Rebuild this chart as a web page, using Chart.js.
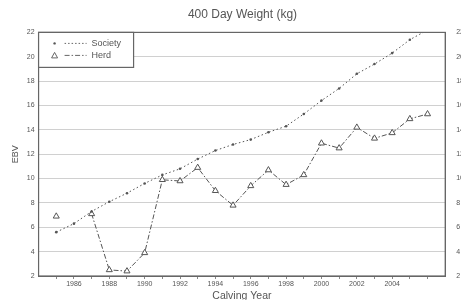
<!DOCTYPE html>
<html>
<head>
<meta charset="utf-8">
<script src="https://cdn.jsdelivr.net/npm/chart.js@4/dist/chart.umd.min.js"></script>
<style>
  html, body { margin: 0; padding: 0; background: #fff; overflow: hidden; }
  #wrap { width: 475px; height: 302px; }
</style>
</head>
<body>
<div id="wrap"><canvas id="myChart"></canvas></div>
<script>
// --- données ---
const years = [1985, 1986, 1987, 1988, 1989, 1990, 1991, 1992, 1993, 1994, 1995,
               1996, 1997, 1998, 1999, 2000, 2001, 2002, 2003, 2004, 2005, 2006];
const society = [5.6, 6.3, 7.3, 8.1, 8.8, 9.6, 10.3, 10.8, 11.6, 12.3, 12.8,
                 13.2, 13.8, 14.3, 15.3, 16.4, 17.4, 18.6, 19.4, 20.3, 21.4, 22.2];
const herd = [6.9, null, 7.1, 2.5, 2.4, 3.9, 9.9, 9.8, 10.9, 9.0, 7.8,
              9.4, 10.7, 9.5, 10.3, 12.9, 12.5, 14.2, 13.3, 13.75, 14.9, 15.3];
const xLabelYears = [1986, 1988, 1990, 1992, 1994, 1996, 1998, 2000, 2002, 2004];
const yTicks = [2, 4, 6, 8, 10, 12, 14, 16, 18, 20, 22];

const ink = '#555';
const grid = '#d0d0d0';
const fontFam = '"Liberation Sans", Arial, sans-serif';

// cadre + légende dans la zone du graphique
const framePlugin = {
  id: 'frame',
  afterDraw(chart) {
    const { ctx, chartArea: a } = chart;
    ctx.save();
    ctx.strokeStyle = '#666';
    ctx.lineWidth = 1.2;
    ctx.strokeRect(a.left, a.top, a.right - a.left, a.bottom - a.top);

    // boîte de légende
    const bx = a.left, by = a.top, bw = 95, bh = 35;
    ctx.fillStyle = '#fff';
    ctx.fillRect(bx, by, bw, bh);
    ctx.strokeRect(bx, by, bw, bh);

    ctx.font = '9px ' + fontFam;
    ctx.fillStyle = ink;
    ctx.textBaseline = 'middle';

    // Society
    let y = by + 11;
    ctx.beginPath();
    ctx.arc(bx + 16, y, 1.2, 0, Math.PI * 2);
    ctx.fill();
    ctx.setLineDash([1.5, 2]);
    ctx.lineWidth = 1;
    ctx.beginPath();
    ctx.moveTo(bx + 26, y); ctx.lineTo(bx + 48, y);
    ctx.stroke();
    ctx.setLineDash([]);
    ctx.fillText('Society', bx + 53, y);

    // Herd
    y = by + 23;
    ctx.beginPath();
    ctx.moveTo(bx + 16, y - 3); ctx.lineTo(bx + 19, y + 2.5); ctx.lineTo(bx + 13, y + 2.5);
    ctx.closePath();
    ctx.stroke();
    ctx.setLineDash([5, 2, 1.5, 2]);
    ctx.beginPath();
    ctx.moveTo(bx + 26, y); ctx.lineTo(bx + 48, y);
    ctx.stroke();
    ctx.setLineDash([]);
    ctx.fillText('Herd', bx + 53, y);
    ctx.restore();
  }
};

const tickFont = { family: fontFam, size: 7 };

new Chart(document.getElementById('myChart'), {
  type: 'line',
  data: {
    datasets: [
      {
        label: 'Society',
        data: years.map((x, i) => ({ x, y: society[i] })),
        borderColor: ink,
        backgroundColor: ink,
        borderWidth: 1,
        borderDash: [1.5, 2.5],
        pointStyle: 'circle',
        pointRadius: 1.3,
        pointBorderWidth: 0,
        tension: 0
      },
      {
        label: 'Herd',
        data: years.map((x, i) => ({ x, y: herd[i] })),
        borderColor: ink,
        backgroundColor: '#fff',
        borderWidth: 1,
        borderDash: [5, 2, 1.5, 2],
        pointStyle: 'triangle',
        pointRadius: 3.5,
        pointBorderWidth: 1,
        spanGaps: false,
        tension: 0
      }
    ]
  },
  options: {
    responsive: true,
    maintainAspectRatio: false,
    animation: false,
    layout: { padding: { top: 3, right: 0, left: 10, bottom: 0 } },
    plugins: {
      legend: { display: false },
      tooltip: { enabled: false },
      title: {
        display: true,
        text: '400 Day Weight (kg)',
        color: ink,
        font: { family: fontFam, size: 12, weight: 'normal' },
        padding: { top: 4, bottom: 11 }
      }
    },
    scales: {
      x: {
        type: 'linear',
        min: 1984,
        max: 2007,
        afterBuildTicks: (axis) => { axis.ticks = years.map(v => ({ value: v })); },
        ticks: {
          color: ink,
          font: tickFont,
          maxRotation: 0,
          autoSkip: false,
          padding: 1,
          callback: (v) => xLabelYears.includes(v) ? String(v) : ''
        },
        grid: { display: true, drawOnChartArea: false, tickLength: 3, color: '#888' },
        border: { color: '#666' },
        title: {
          display: true,
          text: 'Calving Year',
          color: ink,
          font: { family: fontFam, size: 10.5 },
          padding: { top: 0, bottom: 0 }
        }
      },
      y: {
        min: 2,
        max: 22,
        afterBuildTicks: (axis) => { axis.ticks = yTicks.map(v => ({ value: v })); },
        ticks: { color: ink, font: tickFont, padding: 4 },
        grid: { color: grid, lineWidth: 1, drawTicks: false },
        border: { color: '#666' },
        title: {
          display: true,
          text: 'EBV',
          color: ink,
          font: { family: fontFam, size: 9 },
          padding: { top: 0, bottom: 2 }
        }
      },
      y2: {
        position: 'right',
        min: 2,
        max: 22,
        afterBuildTicks: (axis) => { axis.ticks = yTicks.map(v => ({ value: v })); },
        ticks: { color: ink, font: tickFont, padding: 11 },
        grid: { drawOnChartArea: false, drawTicks: false },
        border: { color: '#666' }
      }
    }
  },
  plugins: [framePlugin]
});
</script>
</body>
</html>
